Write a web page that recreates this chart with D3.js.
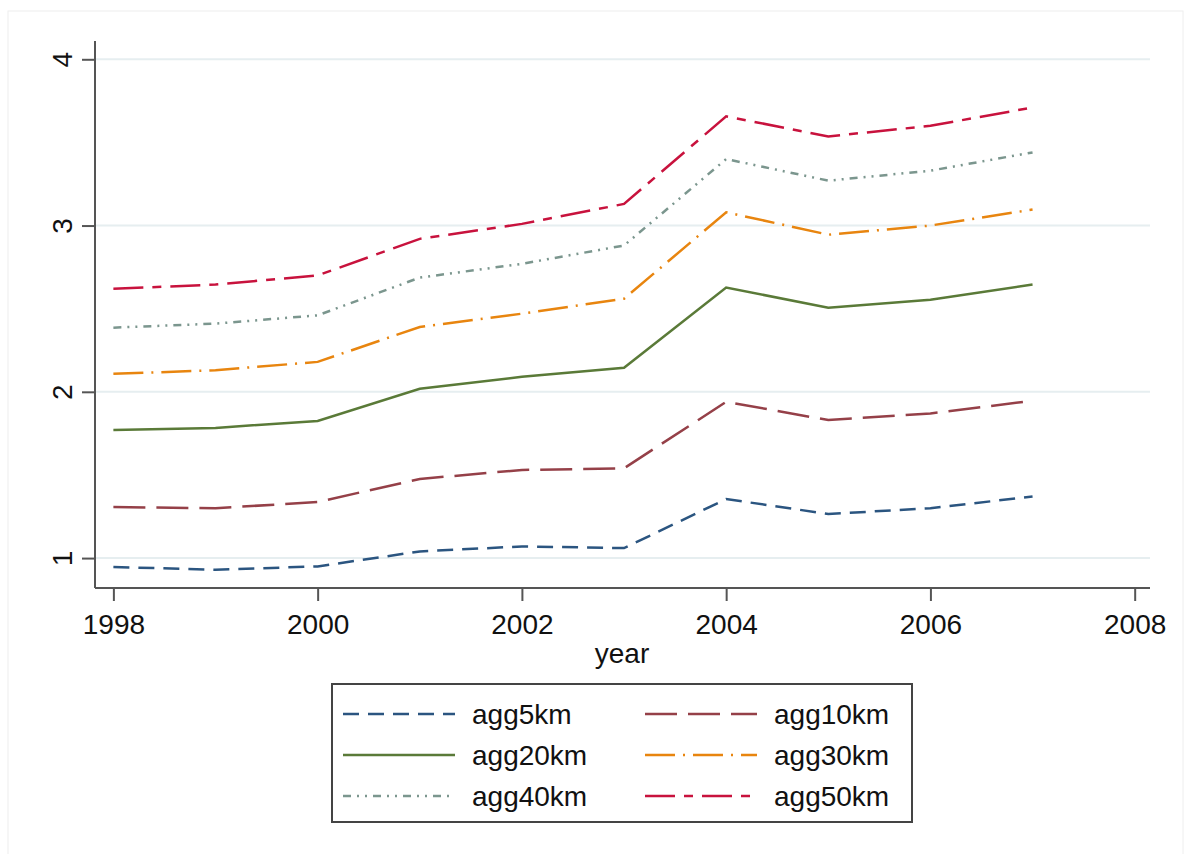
<!DOCTYPE html>
<html>
<head>
<meta charset="utf-8">
<script src="https://cdn.jsdelivr.net/npm/d3@7"></script>
<style>
  body { margin: 0; background: #fff; }
  text { font-family: "Liberation Sans", Arial, sans-serif; fill: #111; }
</style>
</head>
<body>
<svg width="1186" height="854"></svg>
<script>
// chart data
var years = [1998, 1999, 2000, 2001, 2002, 2003, 2004, 2005, 2006, 2007];
var agg5km  = [0.946, 0.93, 0.95, 1.04, 1.07, 1.06, 1.355, 1.265, 1.30, 1.37];
var agg10km = [1.307, 1.30, 1.337, 1.476, 1.53, 1.54, 1.94, 1.83, 1.87, 1.946];
var agg20km = [1.77, 1.783, 1.825, 2.018, 2.09, 2.145, 2.627, 2.506, 2.554, 2.645];
var agg30km = [2.108, 2.13, 2.18, 2.39, 2.47, 2.56, 3.08, 2.945, 3.0, 3.096];
var agg40km = [2.386, 2.41, 2.46, 2.687, 2.77, 2.88, 3.40, 3.27, 3.33, 3.44];
var agg50km = [2.62, 2.645, 2.70, 2.92, 3.01, 3.13, 3.657, 3.536, 3.60, 3.71];
var seriesNames = ["agg5km", "agg10km", "agg20km", "agg30km", "agg40km", "agg50km"];
var xTicks = [1998, 2000, 2002, 2004, 2006, 2008];
var yTicks = [1, 2, 3, 4];

var seriesValues = [agg5km, agg10km, agg20km, agg30km, agg40km, agg50km];
var colors = ["#2b5580", "#954048", "#5a7a38", "#e8850f", "#7b968e", "#c8123d"];
var dashes = ["16,9", "32,11", null, "30,8,2,8", "8,6,2,6,2,6", "30,9,9,9"];

var svg = d3.select("svg");

// faint outer frame
svg.append("rect")
  .attr("x", 8).attr("y", 11).attr("width", 1175).attr("height", 850)
  .attr("fill", "none").attr("stroke", "#eeeeee").attr("stroke-width", 1);

var x = d3.scaleLinear().domain([1997.82, 2008.15]).range([95, 1150]);
var y = d3.scaleLinear().domain([0.82, 4.11]).range([588, 41]);

// gridlines
svg.selectAll("line.grid").data(yTicks).enter().append("line")
  .attr("class", "grid")
  .attr("x1", 95).attr("x2", 1150)
  .attr("y1", function(d){ return y(d); })
  .attr("y2", function(d){ return y(d); })
  .attr("stroke", "#e6eef0")
  .attr("stroke-width", 2);

// y axis
var yAxis = svg.append("g")
  .attr("transform", "translate(95,0)")
  .call(d3.axisLeft(y).tickValues(yTicks).tickSize(13).tickPadding(10).tickFormat(d3.format("d")));
yAxis.select(".domain").attr("stroke", "#555").attr("stroke-width", 2).attr("d", "M0,41V588");
yAxis.selectAll(".tick line").attr("stroke", "#555").attr("stroke-width", 2);
yAxis.selectAll(".tick text")
  .attr("font-size", 28)
  .attr("text-anchor", "middle")
  .attr("dy", 0)
  .attr("x", 0)
  .attr("transform", "translate(-23,0) rotate(-90)");

// x axis
var xAxis = svg.append("g")
  .attr("transform", "translate(0,588)")
  .call(d3.axisBottom(x).tickValues(xTicks).tickSize(13).tickPadding(13).tickFormat(d3.format("d")));
xAxis.select(".domain").attr("stroke", "#555").attr("stroke-width", 2).attr("d", "M95,0H1150");
xAxis.selectAll(".tick line").attr("stroke", "#555").attr("stroke-width", 2);
xAxis.selectAll(".tick text").attr("font-size", 28);

svg.append("text")
  .attr("x", 622).attr("y", 663)
  .attr("text-anchor", "middle")
  .attr("font-size", 28)
  .text("year");

// lines
var line = d3.line()
  .x(function(d, i){ return x(years[i]); })
  .y(function(d){ return y(d); });

seriesValues.forEach(function(vals, k){
  svg.append("path")
    .datum(vals)
    .attr("d", line)
    .attr("fill", "none")
    .attr("stroke", colors[k])
    .attr("stroke-width", 2.5)
    .attr("stroke-dasharray", dashes[k]);
});

// legend
var legend = svg.append("g");
legend.append("rect")
  .attr("x", 332).attr("y", 684).attr("width", 580).attr("height", 138)
  .attr("fill", "#fff").attr("stroke", "#444").attr("stroke-width", 2);

seriesNames.forEach(function(name, k){
  var col = k % 2, row = Math.floor(k / 2);
  var lx = col === 0 ? 343 : 645;
  var ly = 714 + row * 41;
  legend.append("line")
    .attr("x1", lx).attr("x2", lx + 112)
    .attr("y1", ly).attr("y2", ly)
    .attr("stroke", colors[k])
    .attr("stroke-width", 2.5)
    .attr("stroke-dasharray", dashes[k]);
  legend.append("text")
    .attr("x", lx + 129).attr("y", ly + 10)
    .attr("font-size", 28)
    .text(name);
});
</script>
</body>
</html>
